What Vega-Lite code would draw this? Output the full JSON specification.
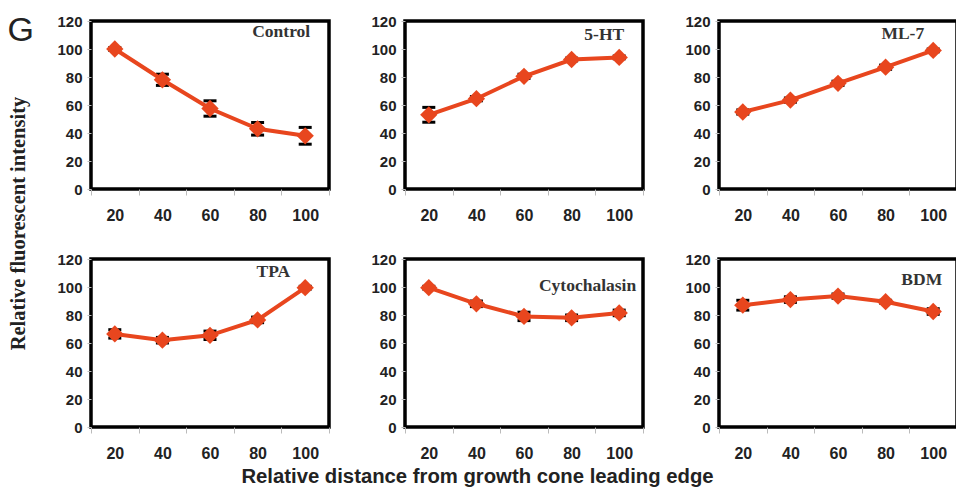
{
  "$schema": "https://vega.github.io/schema/vega-lite/v6.json",
  "padding": {"left": 5, "top": 11, "right": 0, "bottom": 0},
  "background": "white",
  "config": {
    "view": {"stroke": "black", "strokeWidth": 3.5},
    "axis": {"labelFont": "Liberation Sans", "labelFontWeight": "bold", "labelColor": "#222", "domain": false, "grid": false, "tickColor": "#bbb"}
  },
  "datasets": {
    "d": [
      {"panel": "Control", "distance": 20, "value": 100, "err": 1},
      {"panel": "Control", "distance": 40, "value": 78, "err": 4},
      {"panel": "Control", "distance": 60, "value": 57.5, "err": 5.5},
      {"panel": "Control", "distance": 80, "value": 43, "err": 4.5},
      {"panel": "Control", "distance": 100, "value": 38, "err": 6},
      {"panel": "5-HT", "distance": 20, "value": 53, "err": 5.3},
      {"panel": "5-HT", "distance": 40, "value": 64.5, "err": 1.5},
      {"panel": "5-HT", "distance": 60, "value": 80.5, "err": 1.5},
      {"panel": "5-HT", "distance": 80, "value": 92.5, "err": 1},
      {"panel": "5-HT", "distance": 100, "value": 94, "err": 1},
      {"panel": "ML-7", "distance": 20, "value": 55, "err": 1.5},
      {"panel": "ML-7", "distance": 40, "value": 63.5, "err": 1.5},
      {"panel": "ML-7", "distance": 60, "value": 75.5, "err": 1.5},
      {"panel": "ML-7", "distance": 80, "value": 87, "err": 1.5},
      {"panel": "ML-7", "distance": 100, "value": 99, "err": 1},
      {"panel": "TPA", "distance": 20, "value": 66.5, "err": 3},
      {"panel": "TPA", "distance": 40, "value": 62, "err": 2},
      {"panel": "TPA", "distance": 60, "value": 65.5, "err": 3},
      {"panel": "TPA", "distance": 80, "value": 76.5, "err": 2},
      {"panel": "TPA", "distance": 100, "value": 99.5, "err": 1},
      {"panel": "Cytochalasin", "distance": 20, "value": 99.5, "err": 1},
      {"panel": "Cytochalasin", "distance": 40, "value": 88, "err": 2},
      {"panel": "Cytochalasin", "distance": 60, "value": 79, "err": 3},
      {"panel": "Cytochalasin", "distance": 80, "value": 78, "err": 2},
      {"panel": "Cytochalasin", "distance": 100, "value": 81.5, "err": 2},
      {"panel": "BDM", "distance": 20, "value": 87, "err": 3.5},
      {"panel": "BDM", "distance": 40, "value": 91, "err": 2},
      {"panel": "BDM", "distance": 60, "value": 93.5, "err": 1.5},
      {"panel": "BDM", "distance": 80, "value": 89.5, "err": 1},
      {"panel": "BDM", "distance": 100, "value": 82.5, "err": 2}
    ]
  },
  "data": {"name": "d"},
  "columns": 3,
  "bounds": "flush",
  "spacing": {"row": 70, "column": 76},
  "concat": [
    {
      "width": 238, "height": 168,
      "transform": [{"filter": "datum.panel == 'Control'"}],
      "encoding": {
        "x": {"field": "distance", "type": "ordinal", "scale": {"type": "band", "paddingInner": 0, "paddingOuter": 0}, "axis": {"title": null, "labelAngle": 0, "tickBand": "extent", "tickSize": 6, "labelPadding": 12, "labelFontSize": 16}},
        "y": {"field": "value", "type": "quantitative", "scale": {"domain": [0, 120], "nice": false}, "axis": {"values": [0, 20, 40, 60, 80, 100, 120], "tickSize": 4, "labelPadding": 5, "labelFontSize": 15, "title": "G", "titleAngle": 0, "titleX": -84, "titleY": -8, "titleAlign": "left", "titleBaseline": "top", "titleFont": "Liberation Sans", "titleFontWeight": "normal", "titleFontSize": 34, "titleColor": "#222"}}
      },
      "layer": [
        {"mark": {"type": "errorbar", "color": "black", "ticks": {"size": 13, "thickness": 3, "color": "black", "opacity": 1}, "rule": {"color": "black", "opacity": 1}, "thickness": 2}, "encoding": {"yError": {"field": "err"}}},
        {"mark": {"type": "line", "color": "#E8461E", "strokeWidth": 4}},
        {"mark": {"type": "point", "shape": "diamond", "filled": true, "size": 300, "color": "#E8461E", "opacity": 1}},
        {"transform": [{"filter": "datum.distance == 100"}], "mark": {"type": "text", "text": "Control", "font": "Liberation Serif", "fontWeight": "bold", "fontSize": 17.5, "color": "#333", "align": "right", "dx": 5}, "encoding": {"y": {"datum": 112}}}
      ]
    },
    {
      "width": 238, "height": 168,
      "transform": [{"filter": "datum.panel == '5-HT'"}],
      "encoding": {
        "x": {"field": "distance", "type": "ordinal", "scale": {"type": "band", "paddingInner": 0, "paddingOuter": 0}, "axis": {"title": null, "labelAngle": 0, "tickBand": "extent", "tickSize": 6, "labelPadding": 12, "labelFontSize": 16}},
        "y": {"field": "value", "type": "quantitative", "scale": {"domain": [0, 120], "nice": false}, "axis": {"values": [0, 20, 40, 60, 80, 100, 120], "tickSize": 4, "labelPadding": 5, "labelFontSize": 15, "title": null}}
      },
      "layer": [
        {"mark": {"type": "errorbar", "color": "black", "ticks": {"size": 13, "thickness": 3, "color": "black", "opacity": 1}, "rule": {"color": "black", "opacity": 1}, "thickness": 2}, "encoding": {"yError": {"field": "err"}}},
        {"mark": {"type": "line", "color": "#E8461E", "strokeWidth": 4}},
        {"mark": {"type": "point", "shape": "diamond", "filled": true, "size": 300, "color": "#E8461E", "opacity": 1}},
        {"transform": [{"filter": "datum.distance == 100"}], "mark": {"type": "text", "text": "5-HT", "font": "Liberation Serif", "fontWeight": "bold", "fontSize": 17.5, "color": "#333", "align": "right", "dx": 5}, "encoding": {"y": {"datum": 110}}}
      ]
    },
    {
      "width": 238, "height": 168,
      "transform": [{"filter": "datum.panel == 'ML-7'"}],
      "encoding": {
        "x": {"field": "distance", "type": "ordinal", "scale": {"type": "band", "paddingInner": 0, "paddingOuter": 0}, "axis": {"title": null, "labelAngle": 0, "tickBand": "extent", "tickSize": 6, "labelPadding": 12, "labelFontSize": 16}},
        "y": {"field": "value", "type": "quantitative", "scale": {"domain": [0, 120], "nice": false}, "axis": {"values": [0, 20, 40, 60, 80, 100, 120], "tickSize": 4, "labelPadding": 5, "labelFontSize": 15, "title": null}}
      },
      "layer": [
        {"mark": {"type": "errorbar", "color": "black", "ticks": {"size": 13, "thickness": 3, "color": "black", "opacity": 1}, "rule": {"color": "black", "opacity": 1}, "thickness": 2}, "encoding": {"yError": {"field": "err"}}},
        {"mark": {"type": "line", "color": "#E8461E", "strokeWidth": 4}},
        {"mark": {"type": "point", "shape": "diamond", "filled": true, "size": 300, "color": "#E8461E", "opacity": 1}},
        {"transform": [{"filter": "datum.distance == 100"}], "mark": {"type": "text", "text": "ML-7", "font": "Liberation Serif", "fontWeight": "bold", "fontSize": 17.5, "color": "#333", "align": "right", "dx": -9}, "encoding": {"y": {"datum": 111}}}
      ]
    },
    {
      "width": 238, "height": 168,
      "transform": [{"filter": "datum.panel == 'TPA'"}],
      "encoding": {
        "x": {"field": "distance", "type": "ordinal", "scale": {"type": "band", "paddingInner": 0, "paddingOuter": 0}, "axis": {"title": null, "labelAngle": 0, "tickBand": "extent", "tickSize": 6, "labelPadding": 12, "labelFontSize": 16}},
        "y": {"field": "value", "type": "quantitative", "scale": {"domain": [0, 120], "nice": false}, "axis": {"values": [0, 20, 40, 60, 80, 100, 120], "tickSize": 4, "labelPadding": 5, "labelFontSize": 15, "title": "Relative fluorescent intensity", "titleX": -63, "titleY": -36, "titleFont": "Liberation Serif", "titleFontWeight": "bold", "titleFontSize": 20.5, "titleColor": "#222"}}
      },
      "layer": [
        {"mark": {"type": "errorbar", "color": "black", "ticks": {"size": 13, "thickness": 3, "color": "black", "opacity": 1}, "rule": {"color": "black", "opacity": 1}, "thickness": 2}, "encoding": {"yError": {"field": "err"}}},
        {"mark": {"type": "line", "color": "#E8461E", "strokeWidth": 4}},
        {"mark": {"type": "point", "shape": "diamond", "filled": true, "size": 300, "color": "#E8461E", "opacity": 1}},
        {"transform": [{"filter": "datum.distance == 100"}], "mark": {"type": "text", "text": "TPA", "font": "Liberation Serif", "fontWeight": "bold", "fontSize": 17.5, "color": "#333", "align": "right", "dx": -15}, "encoding": {"y": {"datum": 111}}}
      ]
    },
    {
      "width": 238, "height": 168,
      "transform": [{"filter": "datum.panel == 'Cytochalasin'"}],
      "encoding": {
        "x": {"field": "distance", "type": "ordinal", "scale": {"type": "band", "paddingInner": 0, "paddingOuter": 0}, "axis": {"title": "Relative distance from growth cone leading edge", "titleX": 72, "titleAlign": "center", "titlePadding": 5, "titleFont": "Liberation Sans", "titleFontWeight": "bold", "titleFontSize": 20.3, "titleColor": "#222", "labelAngle": 0, "tickBand": "extent", "tickSize": 6, "labelPadding": 12, "labelFontSize": 16}},
        "y": {"field": "value", "type": "quantitative", "scale": {"domain": [0, 120], "nice": false}, "axis": {"values": [0, 20, 40, 60, 80, 100, 120], "tickSize": 4, "labelPadding": 5, "labelFontSize": 15, "title": null}}
      },
      "layer": [
        {"mark": {"type": "errorbar", "color": "black", "ticks": {"size": 13, "thickness": 3, "color": "black", "opacity": 1}, "rule": {"color": "black", "opacity": 1}, "thickness": 2}, "encoding": {"yError": {"field": "err"}}},
        {"mark": {"type": "line", "color": "#E8461E", "strokeWidth": 4}},
        {"mark": {"type": "point", "shape": "diamond", "filled": true, "size": 300, "color": "#E8461E", "opacity": 1}},
        {"transform": [{"filter": "datum.distance == 100"}], "mark": {"type": "text", "text": "Cytochalasin", "font": "Liberation Serif", "fontWeight": "bold", "fontSize": 17.5, "color": "#333", "align": "right", "dx": 17}, "encoding": {"y": {"datum": 101}}}
      ]
    },
    {
      "width": 238, "height": 168,
      "transform": [{"filter": "datum.panel == 'BDM'"}],
      "encoding": {
        "x": {"field": "distance", "type": "ordinal", "scale": {"type": "band", "paddingInner": 0, "paddingOuter": 0}, "axis": {"title": null, "labelAngle": 0, "tickBand": "extent", "tickSize": 6, "labelPadding": 12, "labelFontSize": 16}},
        "y": {"field": "value", "type": "quantitative", "scale": {"domain": [0, 120], "nice": false}, "axis": {"values": [0, 20, 40, 60, 80, 100, 120], "tickSize": 4, "labelPadding": 5, "labelFontSize": 15, "title": null}}
      },
      "layer": [
        {"mark": {"type": "errorbar", "color": "black", "ticks": {"size": 13, "thickness": 3, "color": "black", "opacity": 1}, "rule": {"color": "black", "opacity": 1}, "thickness": 2}, "encoding": {"yError": {"field": "err"}}},
        {"mark": {"type": "line", "color": "#E8461E", "strokeWidth": 4}},
        {"mark": {"type": "point", "shape": "diamond", "filled": true, "size": 300, "color": "#E8461E", "opacity": 1}},
        {"transform": [{"filter": "datum.distance == 100"}], "mark": {"type": "text", "text": "BDM", "font": "Liberation Serif", "fontWeight": "bold", "fontSize": 17.5, "color": "#333", "align": "right", "dx": 9}, "encoding": {"y": {"datum": 105}}}
      ]
    }
  ]
}
